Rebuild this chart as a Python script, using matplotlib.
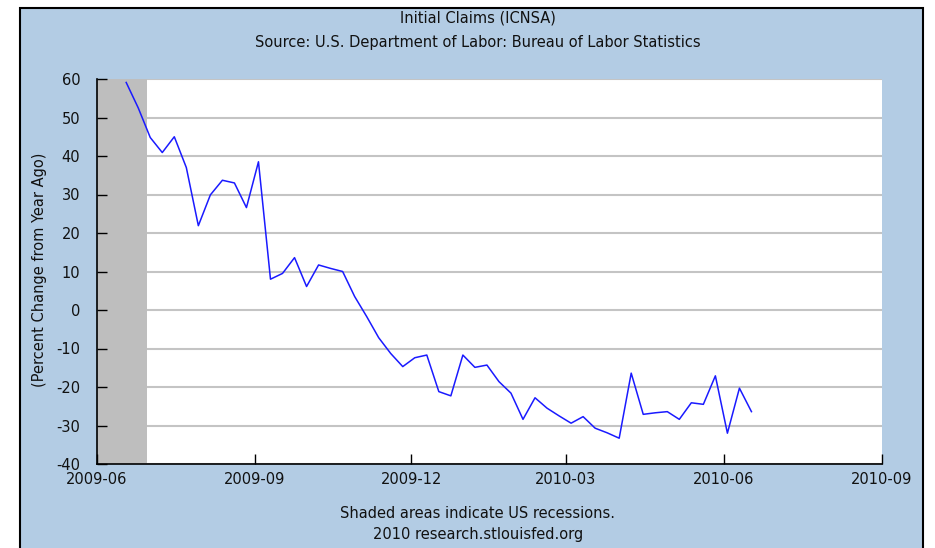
import matplotlib
matplotlib.use("Agg")
import matplotlib.pyplot as plt
from matplotlib.patches import Rectangle
import pandas as pd

plt.rcParams["axes.unicode_minus"] = False

# ---- data ----
start_date = "2009-06-18"
claims_pct = [59.1, 52.5, 44.8, 40.9, 45.0, 37.0, 21.9, 29.9, 33.7, 33.0,
              26.6, 38.5, 8.0, 9.5, 13.6, 6.1, 11.7, 10.8, 10.0, 3.5,
              -1.7, -7.2, -11.3, -14.7, -12.4, -11.7, -21.2, -22.3, -11.7, -14.9,
              -14.3, -18.6, -21.6, -28.4, -22.8, -25.5, -27.5, -29.4, -27.7, -30.7,
              -31.9, -33.3, -16.4, -27.1, -26.7, -26.4, -28.4, -24.1, -24.5, -17.1,
              -32.0, -20.3, -26.4]
dates = pd.date_range(start_date, periods=len(claims_pct), freq="7D")
recession = ("2009-06-01", "2009-06-30")
x_ticks = ["2009-06-01", "2009-09-01", "2009-12-01", "2010-03-01", "2010-06-01", "2010-09-01"]
x_tick_labels = ["2009-06", "2009-09", "2009-12", "2010-03", "2010-06", "2010-09"]
y_ticks = [-40, -30, -20, -10, 0, 10, 20, 30, 40, 50, 60]

W, H = 935, 548
fig = plt.figure(figsize=(W / 100, H / 100), dpi=100)
fig.patch.set_facecolor("white")
bg = Rectangle((20 / W, -0.01), (923 - 20) / W, (H - 8) / H + 0.01,
               transform=fig.transFigure, facecolor="#B3CCE4",
               edgecolor="black", lw=1.5, zorder=-10)
fig.patches.append(bg)

l, r, t, b = 97, 882, 79, 464
ax = fig.add_axes([l / W, 1 - b / H, (r - l) / W, (b - t) / H])
ax.set_zorder(1)
ax.set_facecolor("white")

ax.axvspan(pd.Timestamp(recession[0]), pd.Timestamp(recession[1]),
           color="#BEBEBE", zorder=1, lw=0)
for yv in y_ticks:
    ax.axhline(yv, color="#C4C4C4", lw=1.5, zorder=0.5)
ax.plot(dates, claims_pct, color="#1A1AFF", lw=1.1, zorder=3)

ax.set_xlim(pd.Timestamp("2009-06-01"), pd.Timestamp("2010-09-01"))
ax.set_ylim(-40, 60)
ax.set_yticks(y_ticks)
ax.set_xticks([pd.Timestamp(d) for d in x_ticks])
ax.set_xticklabels(x_tick_labels)

for s in ["top", "right"]:
    ax.spines[s].set_visible(False)
for s in ["left", "bottom"]:
    ax.spines[s].set_color("black")
    ax.spines[s].set_linewidth(1.2)
    ax.spines[s].set_zorder(5)
ax.tick_params(axis="both", direction="in", length=7, width=1, color="black",
               labelsize=10.5, labelcolor="#111111")
ax.tick_params(axis="x", pad=6)
ax.tick_params(axis="y", pad=12)
ax.set_axisbelow(False)

fig.text(40 / W, 1 - 270 / H, "(Percent Change from Year Ago)", rotation=90,
         ha="center", va="center", fontsize=10.5, color="#111111")
fig.text(478 / W, 1 - 18 / H, "Initial Claims (ICNSA)", ha="center", va="center",
         fontsize=10.5, color="#111111")
fig.text(478 / W, 1 - 42 / H, "Source: U.S. Department of Labor: Bureau of Labor Statistics",
         ha="center", va="center", fontsize=10.5, color="#111111")
fig.text(478 / W, 1 - 513 / H, "Shaded areas indicate US recessions.", ha="center",
         va="center", fontsize=10.5, color="#111111")
fig.text(478 / W, 1 - 534 / H, "2010 research.stlouisfed.org", ha="center",
         va="center", fontsize=10.5, color="#111111")

fig.savefig("out.png", dpi=100, facecolor=fig.get_facecolor())
